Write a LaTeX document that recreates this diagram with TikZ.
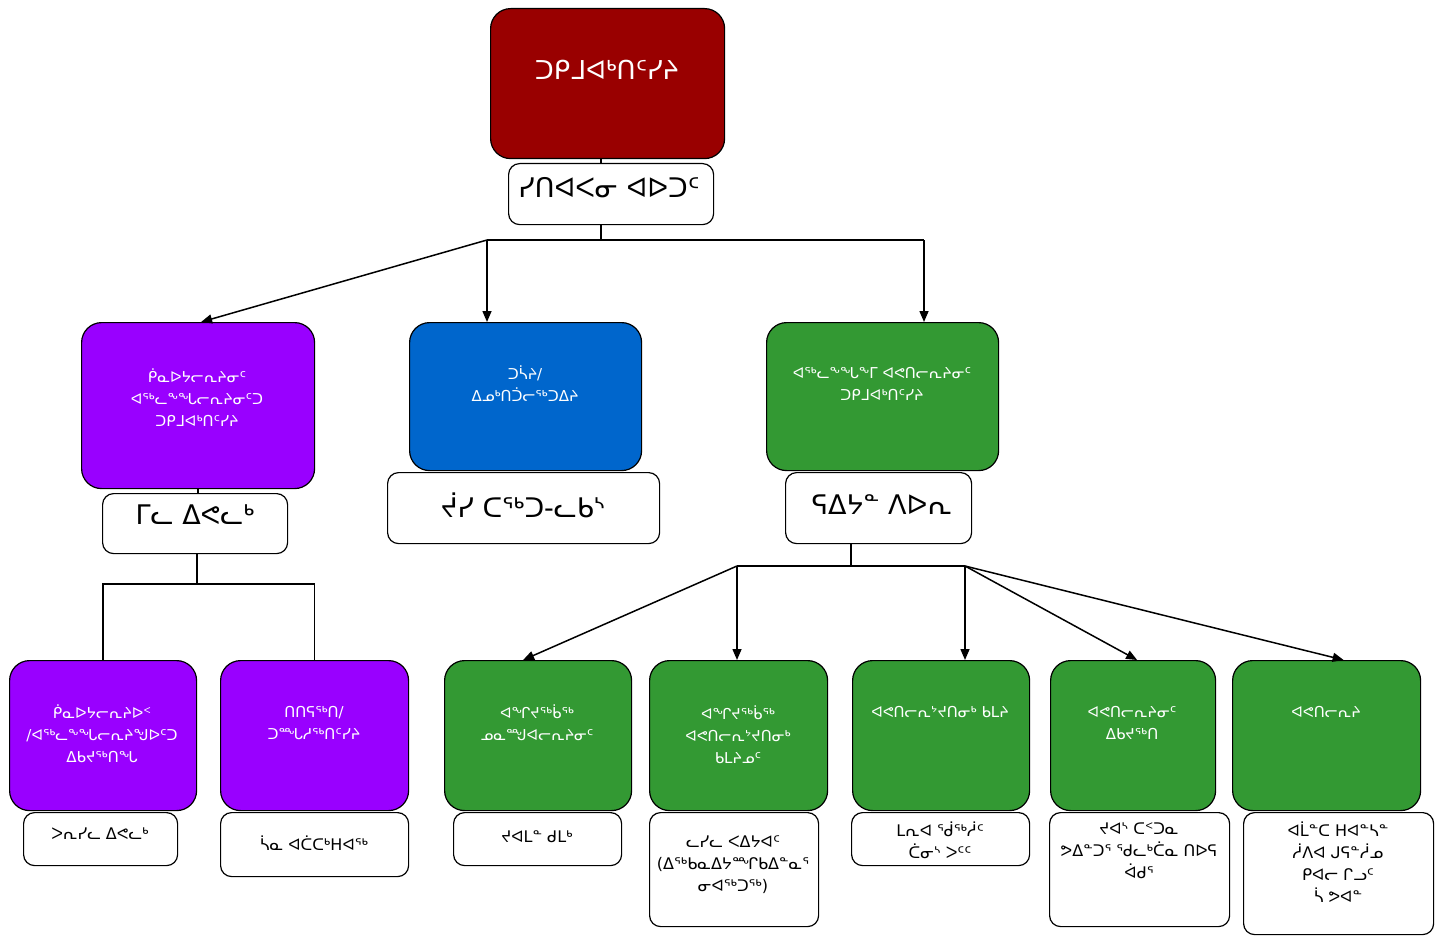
\documentclass[tikz,border=0pt]{standalone}
\usepackage{fontspec}
\setmainfont{DejaVu Sans}
\usetikzlibrary{arrows.meta}

\definecolor{headred}{HTML}{990000}
\definecolor{finpurple}{HTML}{9900FF}
\definecolor{transblue}{HTML}{0066CC}
\definecolor{envgreen}{HTML}{339933}

\tikzset{
  unit/.style={draw, rounded corners=20pt, line width=1.2pt, anchor=north west, inner sep=0pt},
  namebox/.style={draw, rounded corners=11pt, line width=1.2pt, fill=white, anchor=north west, inner sep=0pt},
  wtext/.style={text=white, align=center, inner sep=0pt, font=\fontsize{15}{22}\selectfont},
  btext/.style={align=center, inner sep=0pt, font=\fontsize{16}{22}\selectfont},
  bigtext/.style={align=center, inner sep=0pt, font=\fontsize{27}{30}\selectfont},
  conn/.style={line width=1.5pt},
  arr/.style={conn, -{Triangle[length=11pt,width=9pt]}},
}

\begin{document}
\begin{tikzpicture}[x=1pt, y=-1pt]
        \useasboundingbox (0,0) rectangle (1439,936);

        % Top
        \node[unit, fill=headred, minimum width=234pt, minimum height=150pt] (head) at (490,8) {};
        \node[wtext, font=\fontsize{26}{30}\selectfont] (headtext) at (607,70) {ᑐᑭᒧᐊᒃᑎᑦᓯᔨ};
        \node[namebox, minimum width=205pt, minimum height=61pt] (headname) at (508,163) {};
        \node[bigtext] (headnametext) at (609,188) {ᓯᑎᐊᐸᓂ ᐊᐅᑐᑦ};

        % Second row
        \node[unit, fill=finpurple, minimum width=233pt, minimum height=166pt] (fin) at (81,322) {};
        \node[wtext] (fintext) at (197,398) {ᑮᓇᐅᔭᓕᕆᔨᓂᑦ\\ᐊᖅᓚᖕᖓᓕᕆᔨᓂᑦᑐ\\ᑐᑭᒧᐊᒃᑎᑦᓯᔨ};
        \node[namebox, minimum width=185pt, minimum height=60pt] (finname) at (102,493) {};
        \node[bigtext] (finnametext) at (195,515) {ᒥᓚ ᐃᕙᓚᒃ};

        \node[unit, fill=transblue, minimum width=232pt, minimum height=148pt] (trans) at (409,322) {};
        \node[wtext] (transtext) at (525,384) {ᑐᓵᔨ/\\ᐃᓄᒃᑎᑑᓕᖅᑐᐃᔨ};
        \node[namebox, minimum width=272pt, minimum height=71pt] (transname) at (387,472) {};
        \node[bigtext] (transnametext) at (523,505) {ᔫᓯ ᑕᖅᑐ-ᓚᑲᔅ};

        \node[unit, fill=envgreen, minimum width=232pt, minimum height=148pt] (env) at (766,322) {};
        \node[wtext] (envtext) at (882,384) {ᐊᖅᓚᖕᖓᖕᒥ ᐊᕙᑎᓕᕆᔨᓂᑦ\\ᑐᑭᒧᐊᒃᑎᑦᓯᔨ};
        \node[namebox, minimum width=186pt, minimum height=71pt] (envname) at (785,472) {};
        \node[bigtext] (envnametext) at (882,505) {ᕋᐃᔭᓐ ᐱᐅᕆ};

        % Third row, finance
        \node[unit, fill=finpurple, minimum width=187pt, minimum height=150pt] (fin1) at (9,660) {};
        \node[wtext] (fin1text) at (102,734) {ᑮᓇᐅᔭᓕᕆᔨᐅᑉ\\/ᐊᖅᓚᖕᖓᓕᕆᔨᖑᐅᑦᑐ\\ᐃᑲᔪᖅᑎᖓ};
        \node[namebox, minimum width=154pt, minimum height=53pt] (fin1name) at (23,812) {};
        \node[btext] (fin1nametext) at (100,834) {ᐳᕆᓯᓚ ᐃᕙᓚᒃ};

        \node[unit, fill=finpurple, minimum width=188pt, minimum height=150pt] (fin2) at (220,660) {};
        \node[wtext] (fin2text) at (314,723) {ᑎᑎᕋᖅᑎ/\\ᑐᙵᓱᖅᑎᑦᓯᔨ};
        \node[namebox, minimum width=188pt, minimum height=64pt] (fin2name) at (220,812) {};
        \node[btext] (fin2nametext) at (314,843) {ᓵᓇ ᐊᑖᑕᒃᕼᐊᖅ};

        % Third row, environment
        \node[unit, fill=envgreen, minimum width=187pt, minimum height=150pt] (g1) at (444,660) {};
        \node[wtext] (g1text) at (537,723) {ᐊᖏᔪᖅᑳᖅ\\ᓄᓇᙳᐊᓕᕆᔨᓂᑦ};
        \node[namebox, minimum width=168pt, minimum height=53pt] (g1name) at (453,812) {};
        \node[btext] (g1nametext) at (537,837) {ᔪᐊᒪᓐ ᑯᒪᒃ};

        \node[unit, fill=envgreen, minimum width=178pt, minimum height=150pt] (g2) at (649,660) {};
        \node[wtext] (g2text) at (738,735) {ᐊᖏᔪᖅᑳᖅ\\ᐊᕙᑎᓕᕆᔾᔪᑎᓂᒃ\\ᑲᒪᔨᓄᑦ};
        \node[namebox, minimum width=169pt, minimum height=114pt] (g2name) at (649,812) {};
        \node[btext] (g2nametext) at (733,865) {ᓚᓯᓚ ᐸᐃᔭᐊᑦ\\(ᐃᖅᑲᓇᐃᔭᙱᑲᐃᓐᓇᕐ\\ᓂᐊᖅᑐᖅ)};

        \node[unit, fill=envgreen, minimum width=177pt, minimum height=150pt] (g3) at (852,660) {};
        \node[wtext] (g3text) at (940,712) {ᐊᕙᑎᓕᕆᔾᔪᑎᓂᒃ ᑲᒪᔨ};
        \node[namebox, minimum width=178pt, minimum height=53pt] (g3name) at (851,812) {};
        \node[btext] (g3nametext) at (940,840) {ᒪᕆᐊ ᖂᖅᓲᑦ\\ᑖᓂᔅ ᐳᑦᑦ};

        \node[unit, fill=envgreen, minimum width=165pt, minimum height=150pt] (g4) at (1050,660) {};
        \node[wtext] (g4text) at (1132,723) {ᐊᕙᑎᓕᕆᔨᓂᑦ\\ᐃᑲᔪᖅᑎ};
        \node[namebox, minimum width=180pt, minimum height=114pt] (g4name) at (1049,812) {};
        \node[btext] (g4nametext) at (1139,851) {ᔪᐊᔅ ᑕᑉᑐᓇ\\ᕗᐃᓐᑐᕐ ᖁᓚᒃᑖᓇ ᑎᐅᕋ\\ᐋᑯᕐ};

        \node[unit, fill=envgreen, minimum width=188pt, minimum height=150pt] (g5) at (1232,660) {};
        \node[wtext] (g5text) at (1326,712) {ᐊᕙᑎᓕᕆᔨ};
        \node[namebox, minimum width=190pt, minimum height=122pt] (g5name) at (1243,812) {};
        \node[btext] (g5nametext) at (1338,862) {ᐊᒫᓐᑕ ᕼᐊᓐᓴᓐ\\ᓲᐱᐊ ᒍᕋᓐᓲᓄ\\ᑭᐊᓕ ᒋᓗᑦ\\ᓵ ᕗᐊᓐ};

        % Junctions
        \coordinate (hj) at (601,240);
        \coordinate (hl) at (487,240);
        \coordinate (hr) at (924,240);
        \coordinate (fj) at (197,584);
        \coordinate (ej) at (851,566);
        \coordinate (el) at (737,566);
        \coordinate (er) at (965,566);

        % Connections
        \draw[conn] (head.south -| hj) -- (headname.north -| hj);
        \draw[conn] (headname.south -| hj) -- (hj);
        \draw[conn] (hl) -- (hr);
        \draw[arr] (hl) -- ([xshift=3pt]fin.north);
        \draw[arr] (hl) -- (hl |- trans.north);
        \draw[arr] (hr) -- (hr |- env.north);

        \draw[conn] (fin.south) -- (finname.north -| fin.south);
        \draw[conn] (finname.south -| fj) -- (fj);
        \draw[conn] (fin1.north) |- (fj) -| (fin2.north);

        \draw[conn] (envname.south -| ej) -- (ej);
        \draw[conn] (el) -- (er);
        \draw[arr] (el) -- ([xshift=-15pt]g1.north);
        \draw[arr] (el) -- (el |- g2.north);
        \draw[arr] (er) -- (er |- g3.north);
        \draw[arr] (er) -- ([xshift=4pt]g4.north);
        \draw[arr] (er) -- ([xshift=17pt]g5.north);
    \end{tikzpicture}
\end{document}
